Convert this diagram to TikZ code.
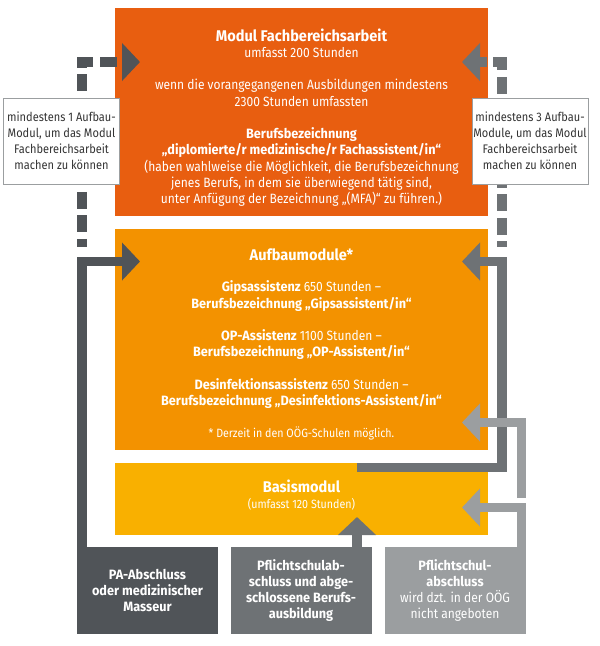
\documentclass[tikz,border=0pt]{standalone}
\usepackage{fontspec}
\setmainfont{Fira Sans}[FakeStretch=0.89, BoldFeatures={FakeStretch=0.94}]
\usetikzlibrary{arrows.meta}
\definecolor{fachorange}{HTML}{E85E10}
\definecolor{aufbauorange}{HTML}{F39200}
\definecolor{basisyellow}{HTML}{F9B000}
\definecolor{graydark}{HTML}{505458}
\definecolor{graymid}{HTML}{6E7275}
\definecolor{graylight}{HTML}{9B9EA0}
\tikzstyle{modbox}=[inner sep=0pt, align=center, text=white, minimum width=373pt]
\tikzstyle{startbox}=[inner sep=0pt, align=center, text=white, minimum width=141pt, minimum height=87pt, font=\fontsize{13.5}{16.3}\selectfont\bfseries]
\tikzstyle{notebox}=[draw=graylight, line width=0.8pt, fill=white, text=black!80, minimum width=116pt, minimum height=86pt, inner sep=0pt, align=center, font=\fontsize{12.4}{16}\selectfont]
\tikzstyle{flow}=[line width=9.5pt]
\tikzstyle{flowdash}=[flow, dash pattern=on 17pt off 6.5pt]
\newcommand{\bigtitle}{\fontsize{15.5}{16}\selectfont\bfseries}
\newcommand{\smalltext}{\fontsize{12}{13}\selectfont}

\begin{document}
\begin{tikzpicture}[x=1pt, y=-1pt,
    >={Triangle[length=18pt,width=37pt]},
    every node/.style={font=\fontsize{13.5}{16.3}\selectfont}
]
\useasboundingbox (0,0) rectangle (600,646);
\node[modbox, fill=fachorange, minimum height=208pt] (fach) at (301.5,112) {%
  {\bigtitle\rule{0pt}{24pt}Modul Fachbereichsarbeit}\\
  umfasst 200 Stunden\\[16pt]
  wenn die vorangegangenen Ausbildungen mindestens\\
  2300 Stunden umfassten\\[16pt]
  \textbf{Berufsbezeichnung}\\
  \textbf{„diplomierte/r medizinische/r Fachassistent/in“}\\
  (haben wahlweise die Möglichkeit, die Berufsbezeichnung\\
  jenes Berufs, in dem sie überwiegend tätig sind,\\
  unter Anfügung der Bezeichnung „(MFA)“ zu führen.)};
\node[modbox, fill=aufbauorange, minimum height=221pt] (aufbau) at (301.5,339.5) {%
  {\bigtitle\rule{0pt}{22pt}Aufbaumodule*}\\[15pt]
  \textbf{Gipsassistenz} 650 Stunden –\\
  \textbf{Berufsbezeichnung „Gipsassistent/in“}\\[16pt]
  \textbf{OP-Assistenz} 1100 Stunden –\\
  \textbf{Berufsbezeichnung „OP-Assistent/in“}\\[16pt]
  \textbf{Desinfektionsassistenz} 650 Stunden –\\
  \textbf{Berufsbezeichnung „Desinfektions-Assistent/in“}\\[16pt]
  {\smalltext * Derzeit in den OÖG-Schulen möglich.}};
\node[modbox, fill=basisyellow, minimum height=72pt] (basis) at (301.5,499) {%
  {\bigtitle Basismodul}\\
  {\smalltext\rule[-9pt]{0pt}{9pt}(umfasst 120 Stunden)}};
\node[startbox, fill=graydark] (pa) at (147.5,590.5) {PA-Abschluss\\oder medizinischer\\Masseur};
\node[startbox, fill=graymid] (pfl) at (301,590.5) {Pflichtschulab-\\schluss und abge-\\schlossene Berufs-\\ausbildung};
\node[startbox, fill=graylight] (pfls) at (455,590.5) {Pflichtschul-\\abschluss\\\textmd{wird dzt. in der OÖG}\\\textmd{nicht angeboten}};

\coordinate (a1) at (82,261.5);
\coordinate (a1tip) at (140,261.5);
\coordinate (f1) at (82,62);
\coordinate (f1tip) at (140,62);
\coordinate (f1end) at (82,247);
\coordinate (b1start) at (357,467.5);
\coordinate (b1) at (502,467.5);
\coordinate (b1up) at (502,261.5);
\coordinate (b1tip) at (462,261.5);
\coordinate (f2) at (502,62);
\coordinate (f2tip) at (462,62);
\coordinate (f2end) at (502,247);
\coordinate (c1start) at (521.5,498);
\coordinate (c1) at (521.5,422.5);
\coordinate (c1tip) at (462,422.5);
\coordinate (c2) at (521.5,507.5);
\coordinate (c2tip) at (462,507.5);
\coordinate (d1tip) at (357,517);

\draw[flow, graydark, ->] (pa.north -| a1) -- (a1) -- (a1tip);
\draw[flowdash, graydark, <-, dash phase=17pt] (f1tip) -- (f1) -- (f1end);
\draw[flow, graymid, ->] (b1start) -- (b1) -- (b1up) -- (b1tip);
\draw[flowdash, graymid, <-, dash phase=9pt] (f2tip) -- (f2) -- (f2end);
\draw[flow, graymid, ->] (pfl.north -| d1tip) -- (d1tip);
\draw[flow, graylight, ->] (c1start) -- (c1) -- (c1tip);
\draw[flow, graylight, ->] (pfls.north -| c2) -- (c2) -- (c2tip);

\node[notebox] (noteL) at (61.5,141) {mindestens 1 Aufbau-\\Modul, um das Modul\\Fachbereichsarbeit\\machen zu können};
\node[notebox] (noteR) at (530,141) {mindestens 3 Aufbau-\\Module, um das Modul\\Fachbereichsarbeit\\machen zu können};
\end{tikzpicture}
\end{document}
